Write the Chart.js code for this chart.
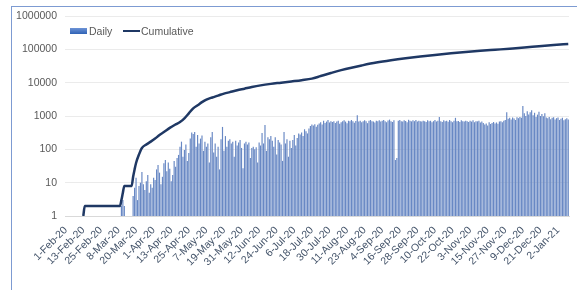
<!DOCTYPE html>
<html>
<head>
<meta charset="utf-8">
<script src="https://cdn.jsdelivr.net/npm/chart.js@4/dist/chart.umd.min.js"></script>
<style>
  html, body { margin: 0; padding: 0; background: #ffffff; }
  #wrap { position: relative; width: 577px; height: 290px; overflow: hidden; font-family: 'Liberation Sans', Arial, sans-serif; }
  #frame { position: absolute; left: 11px; top: 6px; width: 620px; height: 320px; border: 1px solid #7d9bd2; box-sizing: border-box; }
  #box { position: absolute; left: 0; top: 0; width: 577px; height: 290px; }
  .lg { position: absolute; font-size: 10.5px; color: #595959; line-height: 12px; white-space: nowrap; }
  .sw { position: absolute; }
</style>
</head>
<body>
<div id="wrap">
  <div id="frame"></div>
  <div id="box"><canvas id="c" width="577" height="290"></canvas></div>
  <div class="sw" style="left:70px; top:28px; width:17px; height:6px; background:linear-gradient(#6d93d6,#2f62b5);"></div>
  <div class="lg" style="left:89px; top:25px;">Daily</div>
  <div class="sw" style="left:123px; top:30px; width:17px; height:2px; background:#1f3864;"></div>
  <div class="lg" style="left:141px; top:25px;">Cumulative</div>
</div>
<script>
// ---- categories: one per day, 1-Feb-20 .. 9-Jan-21 ----
const startYear = 2020, startMonthIndex = 1, startDay = 1;   // month index 1 = February
const dayCount = 344;
const monthNames = ["Jan","Feb","Mar","Apr","May","Jun","Jul","Aug","Sep","Oct","Nov","Dec"];
const categories = [];
for (let i = 0; i < dayCount; i++) {
  const d = new Date(Date.UTC(startYear, startMonthIndex, startDay + i));
  categories.push(d.getUTCDate() + "-" + monthNames[d.getUTCMonth()] + "-" + String(d.getUTCFullYear()).slice(2));
}

// ---- tick labels shown on the x axis ----
const tickLabels = ["1-Feb-20","13-Feb-20","25-Feb-20","8-Mar-20","20-Mar-20","1-Apr-20","13-Apr-20","25-Apr-20",
  "7-May-20","19-May-20","31-May-20","12-Jun-20","24-Jun-20","6-Jul-20","18-Jul-20","30-Jul-20","11-Aug-20",
  "23-Aug-20","4-Sep-20","16-Sep-20","28-Sep-20","10-Oct-20","22-Oct-20","3-Nov-20","15-Nov-20","27-Nov-20",
  "9-Dec-20","21-Dec-20","2-Jan-21"];

const yTicks = [1, 10, 100, 1000, 10000, 100000, 1000000];

// ---- Daily values ----
const dailyFeb = [null,null,null,null,null,null,null,null,null,null,null,null,1,1,
  null,null,null,null,null,null,null,null,null,null,null,null,null,null,null];
const dailyMar = [null,null,null,null,null,null,null,null,1,2,3,2,null,null,null,null,1,
  4,7,14,3,8,10,21,9,6,11,17,5,9,7];
const dailyApr = [14,12,25,34,20,9,15,38,48,22,40,26,11,17,45,30,55,68,120,170,60,95,140,45,78,210,320,290,330,120];
const dailyMay = [270,150,210,260,90,170,120,150,40,230,330,80,150,60,120,25,200,470,90,250,120,180,200,150,170,60,180,130,160,190,110];
const dailyJun = [27,150,170,140,160,55,110,120,100,115,40,160,130,310,150,540,90,230,200,250,180,120,230,70,190,160,140,45,330,150];
const dailyJul = [200,60,180,110,190,270,130,220,300,280,320,250,400,350,300,420,500,560,520,570,480,550,600,650,560,720,620,680,760,640,700];
const dailyAug = [660,700,620,680,720,590,650,700,740,680,610,720,690,760,700,630,710,1050,680,720,650,700,740,690,610,720,760,700,680,640,720];
const dailySep = [700,740,680,720,760,690,650,730,780,700,660,740,48,55,720,760,700,680,740,710,650,770,720,690,740,700,760,680,720,700];
const dailyOct = [680,720,700,660,740,690,720,650,700,760,680,720,940,700,660,740,690,720,670,760,700,650,720,880,690,710,660,740,700,680,720];
const dailyNov = [700,660,720,680,740,650,700,690,720,640,680,620,560,600,520,650,580,620,660,600,640,590,680,700,650,720,760,1300,820,880];
const dailyDec = [780,900,840,760,920,860,940,880,2000,1200,1000,1400,1100,1300,1500,1050,1250,940,1100,1350,1000,1150,980,1200,900,860,940,800,880,920,780];
const dailyJan = [860,900,760,820,880,740,800,860,780];
const dailyValues = [].concat(dailyFeb, dailyMar, dailyApr, dailyMay, dailyJun, dailyJul, dailyAug,
  dailySep, dailyOct, dailyNov, dailyDec, dailyJan);

// ---- Cumulative values at dates ----
const cumulativeDates = ["13-Feb-20","14-Feb-20","9-Mar-20","10-Mar-20","11-Mar-20","12-Mar-20","17-Mar-20","18-Mar-20",
  "19-Mar-20","20-Mar-20","22-Mar-20","24-Mar-20","27-Mar-20","30-Mar-20","2-Apr-20","5-Apr-20","8-Apr-20","12-Apr-20",
  "16-Apr-20","19-Apr-20","22-Apr-20","25-Apr-20","28-Apr-20","1-May-20","4-May-20","7-May-20","11-May-20","15-May-20",
  "19-May-20","23-May-20","28-May-20","2-Jun-20","7-Jun-20","13-Jun-20","20-Jun-20","27-Jun-20","4-Jul-20","11-Jul-20",
  "18-Jul-20","24-Jul-20","31-Jul-20","7-Aug-20","14-Aug-20","21-Aug-20","31-Aug-20","10-Sep-20","20-Sep-20","30-Sep-20",
  "10-Oct-20","21-Oct-20","31-Oct-20","10-Nov-20","20-Nov-20","30-Nov-20","10-Dec-20","20-Dec-20","30-Dec-20","9-Jan-21"];
const cumulativeValues = [1,2,2,3,5,8,8,15,
  25,39,70,110,140,170,210,270,330,440,
  560,660,850,1200,1700,2100,2600,3100,3600,4100,
  4700,5200,5900,6600,7400,8300,9200,10000,10900,11900,
  13200,15800,19500,23800,28200,32800,40000,47000,54000,61000,
  68000,76000,83000,90000,97000,104500,113000,124000,135000,145000];

const cumulativePoints = cumulativeDates.map((d, i) => ({ x: d, y: cumulativeValues[i] }));

const FONT = "'Liberation Sans', Arial, sans-serif";

new Chart(document.getElementById('c'), {
  data: {
    labels: categories,
    datasets: [
      {
        type: 'bar',
        label: 'Daily',
        data: dailyValues,
        backgroundColor: '#6888c4',
        borderWidth: 0,
        barPercentage: 0.8,
        categoryPercentage: 1.0,
        order: 2
      },
      {
        type: 'line',
        label: 'Cumulative',
        data: cumulativePoints,
        borderColor: '#1f3864',
        backgroundColor: '#1f3864',
        borderWidth: 2.5,
        pointRadius: 0,
        cubicInterpolationMode: 'monotone',
        fill: false,
        order: 1
      }
    ]
  },
  options: {
    responsive: false,
    animation: false,
    devicePixelRatio: 1,
    layout: { padding: { left: 0, right: 8, top: 16, bottom: 0 } },
    plugins: {
      tooltip: { enabled: false },
      legend: { display: false }
    },
    scales: {
      x: {
        type: 'category',
        offset: true,
        grid: { display: false, drawTicks: false },
        border: { display: true, color: '#d9d9d9', width: 1 },
        afterFit: (s) => { s.height = 74; },
        ticks: {
          autoSkip: false,
          minRotation: 45,
          maxRotation: 45,
          padding: 8,
          color: '#44546a',
          font: { family: FONT, size: 10.5 },
          callback: function (value, index) {
            const lab = categories[index];
            return tickLabels.includes(lab) ? lab : null;
          }
        }
      },
      y: {
        type: 'logarithmic',
        min: 1,
        max: 1000000,
        afterFit: (s) => { s.width = 65; },
        afterBuildTicks: (s) => { s.ticks = yTicks.map(v => ({ value: v })); },
        grid: { color: '#ebebeb', drawTicks: false },
        border: { display: false },
        ticks: {
          padding: 8,
          color: '#595959',
          font: { family: FONT, size: 10.5 },
          callback: (v) => String(v)
        }
      }
    }
  }
});
</script>
</body>
</html>
